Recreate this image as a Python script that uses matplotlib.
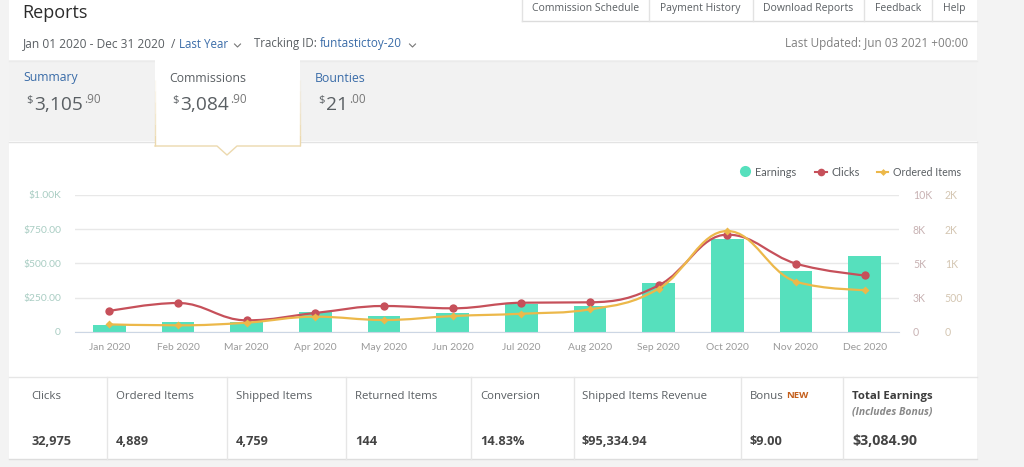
import matplotlib
matplotlib.use('Agg')
import matplotlib.pyplot as plt
from matplotlib.patches import Rectangle, Polygon, PathPatch
from matplotlib.path import Path

months = ['Jan 2020', 'Feb 2020', 'Mar 2020', 'Apr 2020', 'May 2020', 'Jun 2020',
          'Jul 2020', 'Aug 2020', 'Sep 2020', 'Oct 2020', 'Nov 2020', 'Dec 2020']
earnings = [49, 68, 73, 141, 115, 134, 202, 188, 354, 678, 446, 553]
clicks = [1510, 2100, 830, 1370, 1880, 1710, 2120, 2150, 3390, 7100, 4980, 4120]
ordered = [107, 93, 132, 220, 171, 229, 263, 327, 629, 1473, 732, 610]

earn_ticks = [0, 250, 500, 750, 1000]
earn_labels = ['0', '$250.00', '$500.00', '$750.00', '$1.00K']
click_ticks = [0, 2500, 5000, 7500, 10000]
click_labels = ['0', '3K', '5K', '8K', '10K']
order_ticks = [0, 500, 1000, 1500, 2000]
order_labels = ['0', '500', '1K', '2K', '2K']

tabs = ['Commission Schedule', 'Payment History', 'Download Reports', 'Feedback', 'Help']
summary_names = ['Summary', 'Commissions', 'Bounties']
summary_whole = ['3,105', '3,084', '21']
summary_cents = ['.90', '.90', '.00']
stat_names = ['Clicks', 'Ordered Items', 'Shipped Items', 'Returned Items', 'Conversion',
              'Shipped Items Revenue', 'Bonus', 'Total Earnings']
stat_values = ['32,975', '4,889', '4,759', '144', '14.83%', '$95,334.94', '$9.00', '$3,084.90']

GREEN = '#56e0bd'
RED = '#c6505a'
YELLOW = '#ecb84a'
BLUE = '#3a6ca8'
TEXT = '#5a5f63'
W, H = 1024, 467


def spline_path(xs, ys, smoothing=1.5):
    # bezier through the points, same idea as the highcharts spline
    verts = [(xs[0], ys[0])]
    codes = [Path.MOVETO]
    last_right = (xs[0], ys[0])
    n = len(xs)
    for i in range(1, n):
        x, y = xs[i], ys[i]
        px, py = xs[i - 1], ys[i - 1]
        if i < n - 1:
            nx, ny = xs[i + 1], ys[i + 1]
            lx, ly = (smoothing * x + px) / (smoothing + 1), (smoothing * y + py) / (smoothing + 1)
            rx, ry = (smoothing * x + nx) / (smoothing + 1), (smoothing * y + ny) / (smoothing + 1)
            corr = (ry - ly) * (rx - x) / (rx - lx) + y - ry
            ly += corr
            ry += corr
            if ly > py and ly > y:
                ly = max(py, y)
                ry = 2 * y - ly
            elif ly < py and ly < y:
                ly = min(py, y)
                ry = 2 * y - ly
            if ry > ny and ry > y:
                ry = max(ny, y)
                ly = 2 * y - ry
            elif ry < ny and ry < y:
                ry = min(ny, y)
                ly = 2 * y - ry
        else:
            lx, ly = x, y
            rx, ry = x, y
        verts += [last_right, (lx, ly), (x, y)]
        codes += [Path.CURVE4] * 3
        last_right = (rx, ry)
    return Path(verts, codes)


plt.rcParams['font.family'] = ['Open Sans', 'DejaVu Sans']
fig = plt.figure(figsize=(W / 100, H / 100), dpi=100, facecolor='#f3f3f3')

# page furniture, drawn in pixel coordinates
ui = fig.add_axes([0, 0, 1, 1], zorder=0)
ui.set_xlim(0, W)
ui.set_ylim(H, 0)
ui.autoscale(False)
ui.axis('off')
ui.add_patch(Rectangle((9, 0), 968, 459, fc='white', ec='none'))
ui.add_patch(Rectangle((9, 60), 968, 81, fc='#f2f2f2', ec='none'))
ui.plot([9, 977], [60.5, 60.5], color='#ebebeb', lw=1)
ui.plot([9, 977], [141.5, 141.5], color='#e3e3e3', lw=1)

# selected tab, sits over the band lines
ui.add_patch(Polygon([(155, 53), (300, 53), (300, 146), (237, 146), (227, 155), (217, 146), (155, 146)],
                     fc='white', ec='none', zorder=3))
# side borders fade out going up
for y0, alpha in zip(range(80, 146, 11), [0.15, 0.3, 0.45, 0.6, 0.8, 1.0]):
    ui.plot([155, 155], [y0, y0 + 11], color='#ecd9ae', lw=1, alpha=alpha, solid_capstyle='butt', zorder=4)
    ui.plot([300, 300], [y0, y0 + 11], color='#ecd9ae', lw=1, alpha=alpha, solid_capstyle='butt', zorder=4)
ui.plot([155, 217, 227, 237, 300], [146, 146, 155, 146, 146], color='#ecd9ae', lw=1, zorder=4)

# text sits on fixed baselines so descenders don't shift a row
ui.text(22, 18.5, 'Reports', fontsize=13, color='#2b2b2b', va='baseline')
ui.text(23, 47.5, 'Jan 01 2020 - Dec 31 2020', fontsize=8.6, color=TEXT, va='baseline')
ui.text(171, 47.5, '/', fontsize=8.6, color=TEXT, va='baseline')
ui.text(179, 47.5, 'Last Year', fontsize=8.3, color=BLUE, va='baseline')
ui.text(254, 47.5, 'Tracking ID:', fontsize=8.3, color=TEXT, va='baseline')
ui.text(320, 47.5, 'funtastictoy-20', fontsize=8.5, color=BLUE, va='baseline')
for cx in [237.5, 412.5]:
    ui.plot([cx - 3, cx, cx + 3], [44, 47, 44], color='#777777', lw=0.8)
ui.text(968, 46.5, 'Last Updated: Jun 03 2021 +00:00', fontsize=8.5, color='#808080', va='baseline', ha='right')

# top right buttons
tab_edges = [522, 649, 752.5, 864, 931.5, 977]
ui.plot([522, 977], [21, 21], color='#dcdcdc', lw=1)
for e in tab_edges[:-1]:
    ui.plot([e, e], [0, 21], color='#e2e2e2', lw=1)
for i, name in enumerate(tabs):
    ui.text((tab_edges[i] + tab_edges[i + 1]) / 2, 11, name, fontsize=7.5, color=TEXT, ha='center', va='baseline')

# summary tabs
name_x = [23, 169, 315]
name_col = [BLUE, TEXT, BLUE]
dollar_x = [26, 172, 318]
for i in range(3):
    ui.text(name_x[i], 81.5, summary_names[i], fontsize=8.8, color=name_col[i], va='baseline', zorder=5)
    ui.text(dollar_x[i], 103, '$', fontsize=8, color=TEXT, va='baseline', zorder=5)
    t = ui.text(dollar_x[i] + 8, 110, summary_whole[i], fontsize=13.8, color=TEXT, va='baseline', zorder=5)
    fig.canvas.draw()
    bb = t.get_window_extent()
    ui.text(bb.x1 + 1, 103, summary_cents[i], fontsize=8.5, color='#777777', va='baseline', zorder=5)

# legend
ui.plot(745, 171, 'o', color=GREEN, ms=8, mec='none')
ui.text(755, 176, 'Earnings', fontsize=7.9, color=TEXT, va='baseline', family='Lato')
ui.plot([815, 827], [172, 172], color=RED, lw=1.5)
ui.plot(821, 172, 'o', color=RED, ms=5.5, mec='none')
ui.text(831, 176, 'Clicks', fontsize=7.9, color=TEXT, va='baseline', family='Lato')
ui.plot([877, 888], [172, 172], color=YELLOW, lw=1.5)
ui.plot(882.5, 172, 'D', color=YELLOW, ms=3.5, mec='none')
ui.text(893, 176, 'Ordered Items', fontsize=7.7, color=TEXT, va='baseline', family='Lato')

# stats table
ui.plot([9, 977], [377, 377], color='#e6e6e6', lw=1)
ui.plot([9, 977], [459, 459], color='#dddddd', lw=1)
col_edges = [106.5, 226.5, 345.5, 470.5, 573.5, 741, 842.5]
for e in col_edges:
    ui.plot([e, e], [377, 459], color='#e6e6e6', lw=1)
stat_x = [31, 116, 236, 355, 480, 582, 750, 852]
for i in range(8):
    bold = i == 7
    ui.text(stat_x[i], 399, stat_names[i], fontsize=8.2, color='#3c3c3c' if bold else TEXT,
            va='baseline', fontweight='bold' if bold else 'normal')
    ui.text(stat_x[i], 445, stat_values[i], fontsize=10.3 if bold else 9.2, color='#444444', va='baseline',
            fontweight='bold')
ui.text(786, 398, 'NEW', fontsize=6.8, color='#c45f1c', va='baseline', fontweight='bold')
ui.text(852, 415, '(Includes Bonus)', fontsize=7.5, color='#888888', va='baseline', fontweight='bold', style='italic')

# the chart itself
ax = fig.add_axes([75 / W, 1 - 331.7 / H, 824 / W, 136.7 / H], zorder=1)
ax.patch.set_alpha(0)
x = list(range(len(months)))
ax.bar(x, earnings, width=0.48, color=GREEN, zorder=2)
ax.set_xlim(-0.5, 11.5)
ax.set_ylim(0, 1000)
ax.set_yticks(earn_ticks, earn_labels)
ax.set_xticks(x, months)
ax.grid(axis='y', color='#e8e8e8', lw=1, zorder=0)
ax.tick_params(axis='y', length=0, pad=10, colors='#a9cdc3', labelsize=7.4)
ax.tick_params(axis='x', length=0, pad=8, colors='#9a9a9a', labelsize=7.4)
for lab in ax.get_xticklabels() + ax.get_yticklabels():
    lab.set_family('Lato')
for s in ['top', 'left', 'right']:
    ax.spines[s].set_visible(False)
ax.spines['bottom'].set_color('#ccd6e4')

ax2 = ax.twinx()
ax2.set_ylim(0, 10000)
ax2.set_yticks(click_ticks, click_labels)
ax2.tick_params(axis='y', length=0, pad=10, colors='#c8b2b3', labelsize=7.6)
ax2.add_patch(PathPatch(spline_path(x, clicks), fc='none', ec=RED, lw=1.6))
ax2.plot(x, clicks, 'o', color=RED, ms=6, mec='none', zorder=4)

ax3 = ax.twinx()
ax3.set_ylim(0, 2000)
ax3.set_yticks(order_ticks, order_labels)
ax3.tick_params(axis='y', length=0, pad=33, colors='#d4c6b2', labelsize=7.6)
ax3.add_patch(PathPatch(spline_path(x, ordered), fc='none', ec=YELLOW, lw=1.6))
ax3.plot(x, ordered, 'D', color=YELLOW, ms=4, mec='none', zorder=5)
for a in [ax2, ax3]:
    for s in a.spines.values():
        s.set_visible(False)
    for lab in a.get_yticklabels():
        lab.set_family('Lato')

fig.savefig('out.png', dpi=100, facecolor=fig.get_facecolor())
